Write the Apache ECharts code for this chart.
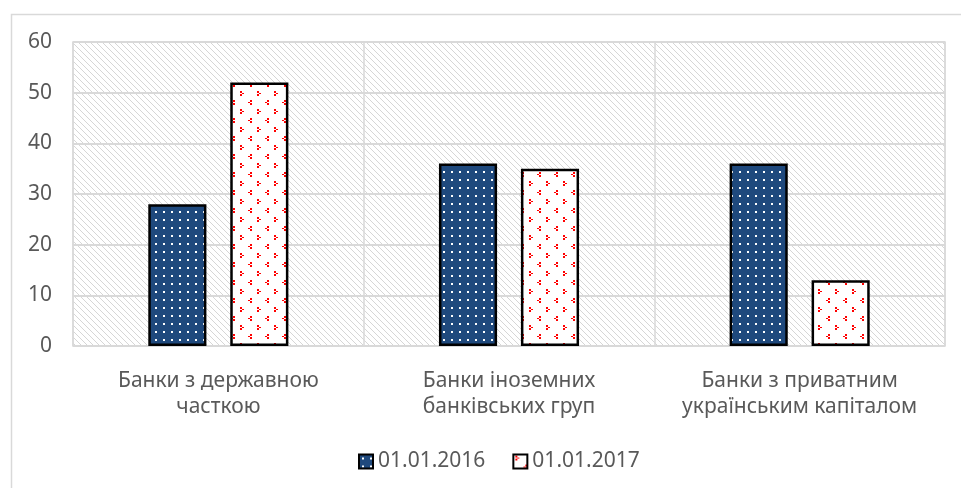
<!DOCTYPE html>
<html>
<head>
<meta charset="utf-8">
<script src="https://cdn.jsdelivr.net/npm/echarts@6/dist/echarts.min.js"></script>
<style>
html,body{margin:0;padding:0;background:#fff;}
#chart{width:961px;height:488px;}
</style>
</head>
<body>
<div id="chart"></div>
<script>
const categories = ['Банки з державною\nчасткою', 'Банки іноземних\nбанківських груп', 'Банки з приватним\nукраїнським капіталом'];
const seriesNames = ['01.01.2016', '01.01.2017'];
const values2016 = [28, 36, 36];
const values2017 = [52, 35, 13];
const yTicks = [0, 10, 20, 30, 40, 50, 60];

function makeCanvas(w, h, draw) {
  const c = document.createElement('canvas');
  c.width = w; c.height = h;
  const ctx = c.getContext('2d');
  draw(ctx, w, h);
  return c;
}
const hatch = makeCanvas(6, 6, (ctx, w, h) => {
  ctx.fillStyle = '#ffffff'; ctx.fillRect(0, 0, w, h);
  ctx.fillStyle = '#d6d6d6';
  for (let i = 0; i < 6; i++) ctx.fillRect(i, i, 1, 1);
});
const bluePat = makeCanvas(8, 8, (ctx, w, h) => {
  ctx.fillStyle = '#1f497d'; ctx.fillRect(0, 0, w, h);
  ctx.fillStyle = '#ffffff'; ctx.fillRect(3, 3, 2, 2);
});
const redPat = makeCanvas(17, 18, (ctx, w, h) => {
  ctx.fillStyle = '#ffffff'; ctx.fillRect(0, 0, w, h);
  ctx.fillStyle = '#ff0000';
  // ">" shape
  ctx.fillRect(2, 1, 2, 2); ctx.fillRect(4, 3, 2, 1); ctx.fillRect(2, 4, 2, 2);
  // "<" shape
  ctx.fillRect(12, 10, 2, 2); ctx.fillRect(10, 12, 2, 1); ctx.fillRect(12, 13, 2, 2);
});

const chart = echarts.init(document.getElementById('chart'));
const txt = '#595959';
const font = 'Noto Sans';
chart.setOption({
  animation: false,
  backgroundColor: '#ffffff',
  graphic: [{
    type: 'rect', left: 9, top: 12, shape: { width: 1000, height: 520 },
    style: { fill: 'none', stroke: '#d9d9d9', lineWidth: 1.5 }, silent: true
  }],
  grid: {
    left: 73, right: 16, top: 42, bottom: 142,
    show: true, borderColor: '#d9d9d9', borderWidth: 1.5,
    backgroundColor: { image: hatch, repeat: 'repeat' }
  },
  legend: {
    bottom: 11, left: 353,
    itemWidth: 14, itemHeight: 14, itemGap: 27,
    textStyle: { color: txt, fontSize: 21, fontFamily: font },
    data: seriesNames.map(n => ({ name: n, icon: 'rect' }))
  },
  xAxis: {
    type: 'category', data: categories,
    axisLine: { show: false }, axisTick: { show: false },
    splitLine: { show: true, lineStyle: { color: '#d9d9d9', width: 1.5 } },
    axisLabel: { color: txt, fontSize: 21, fontFamily: font, lineHeight: 26, margin: 22, interval: 0 }
  },
  yAxis: {
    type: 'value', min: yTicks[0], max: yTicks[yTicks.length - 1], interval: 10,
    axisLine: { show: false }, axisTick: { show: false },
    splitLine: { lineStyle: { color: '#d9d9d9', width: 2 } },
    axisLabel: { color: txt, fontSize: 21, fontFamily: font, margin: 21 }
  },
  series: [
    { name: seriesNames[0], type: 'bar', data: values2016, barWidth: '20%', barGap: '41%',
      itemStyle: { color: { image: bluePat, repeat: 'repeat' }, borderColor: '#000', borderWidth: 2.5 } },
    { name: seriesNames[1], type: 'bar', data: values2017, barWidth: '20%', barGap: '41%',
      itemStyle: { color: { image: redPat, repeat: 'repeat' }, borderColor: '#000', borderWidth: 2.5 } }
  ]
});
</script>
</body>
</html>
